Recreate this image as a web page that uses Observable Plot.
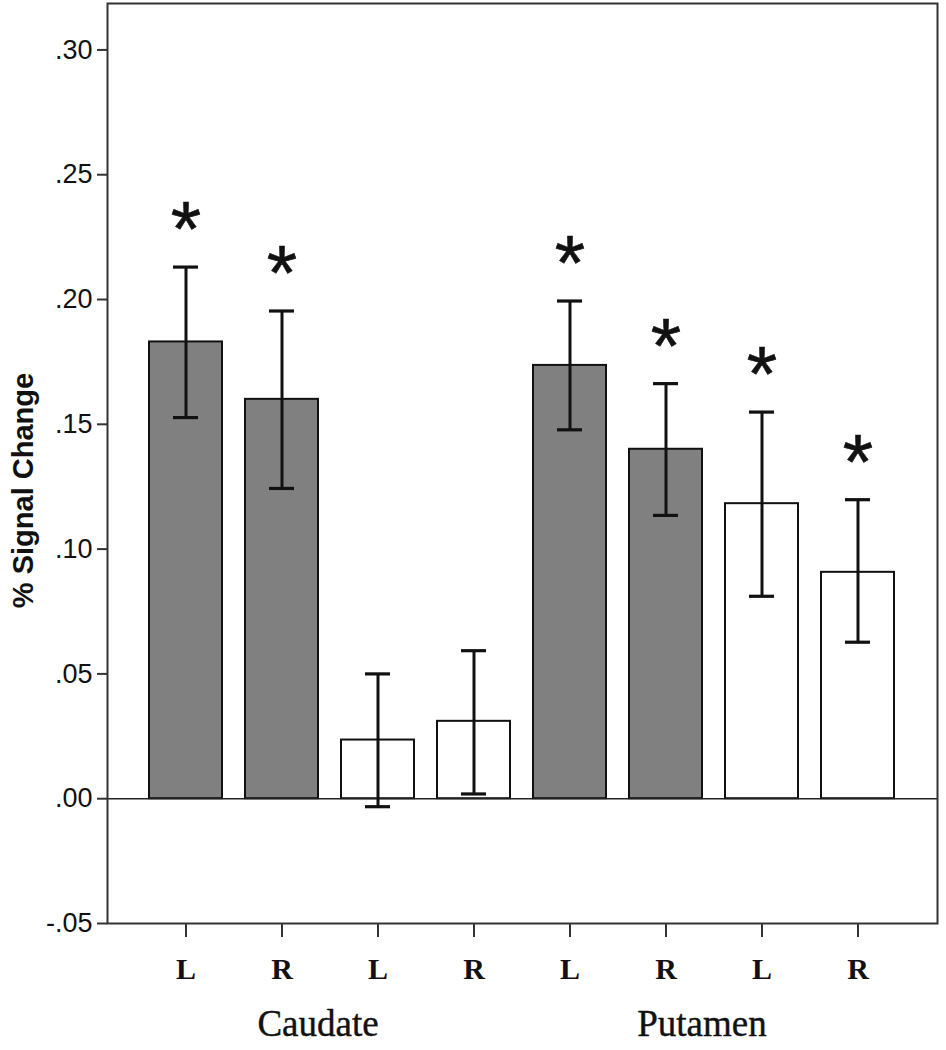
<!DOCTYPE html>
<html>
<head>
<meta charset="utf-8">
<script src="https://cdn.jsdelivr.net/npm/d3@7"></script>
<script src="https://cdn.jsdelivr.net/npm/@observablehq/plot@0.6"></script>
<style>
  html, body { margin: 0; padding: 0; background: #fff; }
  #chart svg { display: block; }
</style>
</head>
<body>
<div id="chart"></div>
<script>
// ---- data ----
const ids        = ["c1", "c2", "c3", "c4", "p1", "p2", "p3", "p4"];
const sides      = ["L", "R", "L", "R", "L", "R", "L", "R"];
const regions    = ["Caudate", "Caudate", "Caudate", "Caudate", "Putamen", "Putamen", "Putamen", "Putamen"];
const conditions = ["filled", "filled", "open", "open", "filled", "filled", "open", "open"];
const means      = [0.183, 0.160, 0.0235, 0.031, 0.1736, 0.140, 0.1182, 0.0907];
const upper      = [0.213, 0.1954, 0.050, 0.0593, 0.1994, 0.1663, 0.1549, 0.1198];
const lower      = [0.1527, 0.1243, -0.0032, 0.0019, 0.1478, 0.1135, 0.0811, 0.0627];
const significant = [true, true, false, false, true, true, true, true];
const yTicks     = [-0.05, 0, 0.05, 0.10, 0.15, 0.20, 0.25, 0.30];
const groupNames = ["Caudate", "Putamen"];
const groupAnchorIds = ["c2", "p2"];   // label sits between 2nd and 3rd bar of each region
const yLabel = "% Signal Change";

const data = ids.map((id, i) => ({
  id, side: sides[i], region: regions[i], condition: conditions[i],
  mean: means[i], hi: upper[i], lo: lower[i], sig: significant[i]
}));
const groups = groupNames.map((g, i) => ({ id: groupAnchorIds[i], label: g }));
const sideOf = Object.fromEntries(ids.map((id, i) => [id, sides[i]]));
const fmt = d => d3.format(".2f")(d).replace("\u2212", "-").replace("0.", ".");

const chart = Plot.plot({
  width: 946,
  height: 1050,
  marginLeft: 107,
  marginRight: 9,
  marginTop: 3,
  marginBottom: 127,
  x: { domain: ids, paddingInner: 0.236, paddingOuter: 0.40, axis: null },
  y: { domain: [-0.05, 0.3186], axis: null },
  color: { domain: ["filled", "open"], range: ["#808080", "#ffffff"] },
  marks: [
    Plot.barY(data, { x: "id", y: "mean", fill: "condition", stroke: "#111", strokeWidth: 2 }),
    Plot.ruleY([0], { stroke: "#222", strokeWidth: 1.5 }),
    Plot.ruleX(data, { x: "id", y1: "lo", y2: "hi", stroke: "#111", strokeWidth: 3 }),
    Plot.tickY(data, { x: "id", y: "hi", insetLeft: 24, insetRight: 24, stroke: "#111", strokeWidth: 3.2 }),
    Plot.tickY(data, { x: "id", y: "lo", insetLeft: 24, insetRight: 24, stroke: "#111", strokeWidth: 3.2 }),
    Plot.text(data.filter(d => d.sig), {
      x: "id", y: "hi", text: () => "*", dy: -36,
      fontSize: 78, fontFamily: "Liberation Sans, Arial, sans-serif", fill: "#111",
      stroke: "#111", strokeWidth: 0.6
    }),
    Plot.frame({ stroke: "#333", strokeWidth: 2 }),
    Plot.axisY({
      ticks: yTicks, tickFormat: fmt, tickSize: 10, tickPadding: 5,
      fontSize: 27, fontFamily: "Liberation Sans, Arial, sans-serif", fill: "#111",
      stroke: "#333", strokeWidth: 2, label: null
    }),
    Plot.axisX({
      tickFormat: id => sideOf[id], tickSize: 14, tickPadding: 20,
      fontSize: 30, fontFamily: "Liberation Serif, Times New Roman, serif", fontWeight: "bold",
      fill: "#111", stroke: "#333", strokeWidth: 2, label: null
    }),
    Plot.text(groups, {
      x: "id", text: "label", frameAnchor: "bottom", dx: 36, dy: 112,
      fontSize: 37, fontFamily: "Liberation Serif, Times New Roman, serif", fill: "#111",
      stroke: "#111", strokeWidth: 0.4
    }),
    Plot.text([yLabel], {
      text: d => d, frameAnchor: "left", textAnchor: "middle", rotate: -90, dx: -84, dy: 27,
      fontSize: 29, fontWeight: "bold", fontFamily: "Liberation Sans, Arial, sans-serif", fill: "#111"
    })
  ]
});
document.getElementById("chart").appendChild(chart);
</script>
</body>
</html>
